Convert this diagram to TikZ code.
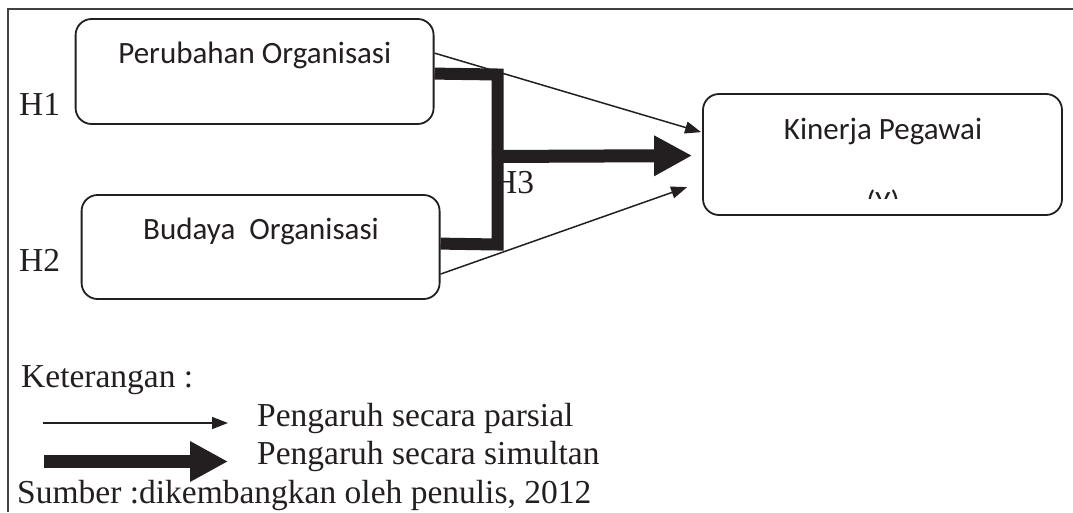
\documentclass[tikz,border=0pt]{standalone}
\usepackage{fontspec}
\setmainfont{Liberation Serif}
\newfontfamily\boxfont{Carlito}
\usetikzlibrary{arrows.meta,calc}
\definecolor{ink}{HTML}{231F20}
\definecolor{framec}{HTML}{404040}
\begin{document}
\begin{tikzpicture}[x=1pt,y=-1pt,
  box/.style={draw=ink,line width=1.8pt,rounded corners=16pt,inner sep=0pt},
  boxtext/.style={font=\boxfont\fontsize{31}{37}\selectfont,text=ink,inner sep=0pt,anchor=base},
  serif/.style={font=\fontsize{33.5}{40}\selectfont,text=ink,inner sep=0pt,anchor=base west},
  thinarrow/.style={draw=ink,line width=1.5pt,-{Triangle[length=16pt,width=12pt]}},
  thickarrow/.style={draw=ink,line width=13pt,-{Triangle[length=38pt,width=38pt]}},
  thickline/.style={draw=ink,line width=12pt,line join=miter},
  framel/.style={draw=framec,line width=2pt}
]
\useasboundingbox (0,0) rectangle (1073,512);
% frame
\draw[framel] (7,9) -- (1073,9);
\draw[framel] (8,9) -- (8,512);

% boxes
\node[box,minimum width=358pt,minimum height=105pt] (po) at (254.6,71.5) {};
\node[box,minimum width=358pt,minimum height=104pt] (bo) at (260.6,247) {};
\node[box,minimum width=359pt,minimum height=121pt] (kp) at (882.5,154.5) {};

\node[boxtext] (tpo) at (254.8,63.3) {Perubahan Organisasi};
\node[boxtext] (tbo) at (261,239.3) {Budaya\ \ Organisasi};
\node[boxtext] (tkp) at (883,139) {Kinerja Pegawai};
\begin{scope}
  \clip (800,150) rectangle (960,198);
  \node[boxtext] (ty) at (883,212.5) {(Y)};
\end{scope}

% labels
\node[serif] (h1) at (19,115) {H1};
\node[serif] (h2) at (19,271.7) {H2};
\node[serif] (h3) at (493,193) {H3};

% connector points
\coordinate (po1) at ($(po.north east)+(0,35)$);
\coordinate (po2) at ($(po.north east)+(0,55.5)$);
\coordinate (bo1) at ($(bo.north east)+(0,49.5)$);
\coordinate (bo2) at ($(bo.north east)+(0,80)$);
\coordinate (kp1) at ($(kp.north west)+(-1,39)$);
\coordinate (kp2) at ($(kp.north west)+(-10,62.5)$);
\coordinate (kp3) at ($(kp.north west)+(-15,94)$);
\coordinate (bar1) at (497.5,74.5);
\coordinate (bar2) at (497.5,244.5);
\coordinate (barm) at (492,156.5);

% thin arrows
\draw[thinarrow] (po1) -- (kp1);
\draw[thinarrow] (bo2) -- (kp3);

% thick bracket and arrow
\draw[thickline] (po2) -- (bar1) -- (bar2) -- (bo1);
\draw[thickarrow] (barm) -- (kp2);

% legend
\node[serif] (ket) at (21,387) {Keterangan :};
\coordinate (l1a) at (43,423);
\coordinate (l1b) at (228,423);
\coordinate (l2a) at (44,461.5);
\coordinate (l2b) at (228,461.5);
\draw[thinarrow] (l1a) -- (l1b);
\draw[thickarrow] (l2a) -- (l2b);
\node[serif] (lp) at (257,426.7) {Pengaruh secara parsial};
\node[serif] (ls) at (257,464) {Pengaruh secara simultan};
\node[serif] (src) at (17,503.3) {Sumber :dikembangkan oleh penulis, 2012};
\end{tikzpicture}
\end{document}
